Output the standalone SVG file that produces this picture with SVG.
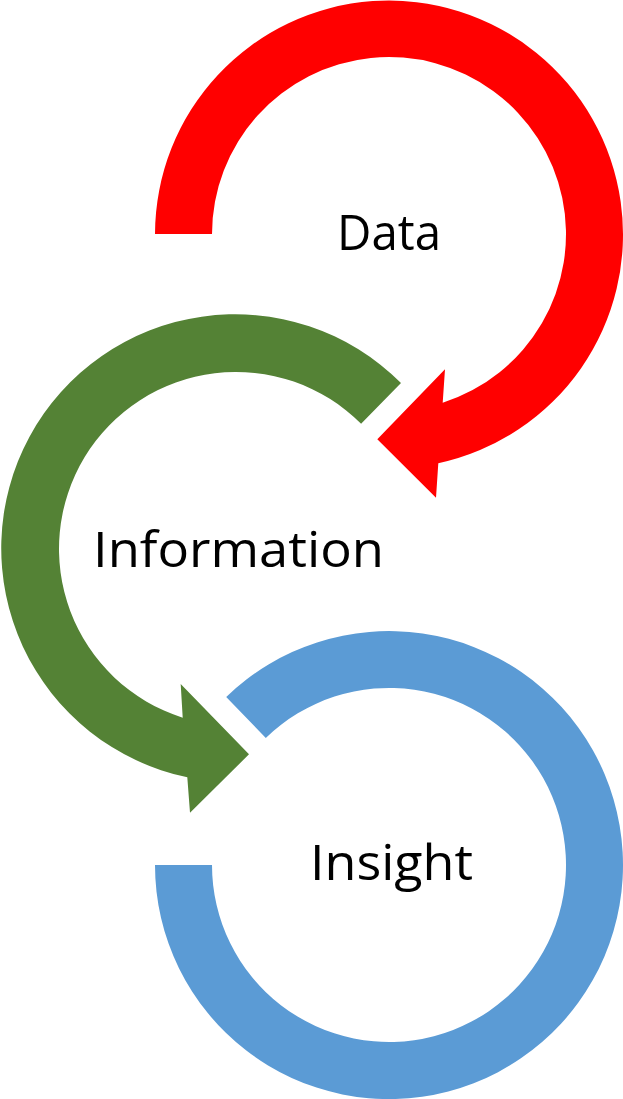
<svg xmlns="http://www.w3.org/2000/svg" width="623" height="1099" viewBox="0 0 623 1099">
<style>
.lbl{font-family:"Open Sans","Noto Sans","Liberation Sans",sans-serif;font-size:49px;fill:#000}
.red{fill:#FF0000}
.green{fill:#548235}
.blue{fill:#5B9BD5}
</style>
<rect width="623" height="1099" fill="#FFFFFF"/>
<g id="node-data">
<path class="red" d="M155,234 A234,234 0 1 1 438.3,463.3 L436,497.7 L377.3,439.3 L445,369.3 L442.7,402.7 A177,177 0 1 0 212,234 Z"/>
<text class="lbl" x="337" y="250" textLength="104" lengthAdjust="spacingAndGlyphs">Data</text>
</g>
<g id="node-information">
<path class="green" d="M401,383.1 A234,234 0 1 0 187.3,777.3 L190,812.7 L249,754.3 L180.7,684 L182.7,717.7 A177,177 0 1 1 361.1,423.7 Z"/>
<text class="lbl" x="93" y="567" textLength="291" lengthAdjust="spacingAndGlyphs">Information</text>
</g>
<g id="node-insight">
<path class="blue" d="M226.2,697 A234,234 0 1 1 155,865 L212,865 A177,177 0 1 0 265.8,737.9 Z"/>
<text class="lbl" x="310" y="880" textLength="163" lengthAdjust="spacingAndGlyphs">Insight</text>
</g>
<g id="connectors"></g>
</svg>
